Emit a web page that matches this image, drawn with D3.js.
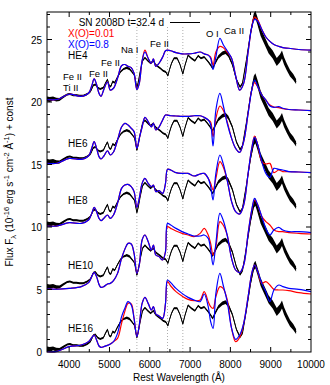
<!DOCTYPE html>
<html>
<head>
<meta charset="utf-8">
<script src="https://cdn.jsdelivr.net/npm/d3@7.9.0/dist/d3.min.js"></script>
<style>
  body { margin: 0; background: #fff; }
  text { font-family: "Liberation Sans", Arial, sans-serif; }
</style>
</head>
<body>
<svg id="chart" width="330" height="385"></svg>
<script>
// observed spectrum of SN 2008D (relative flux, shifted per panel)
const obsWave = [3450, 3520, 3600, 3680, 3760, 3850, 3950, 4020, 4100, 4180, 4260, 4350, 4450, 4530, 4600, 4650, 4710, 4770, 4850, 4900,
  4950, 4995, 5035, 5080, 5130, 5200, 5280, 5350, 5430, 5500, 5560, 5620, 5680, 5715, 5760, 5820, 5880, 5950, 6020, 6090,
  6140, 6200, 6260, 6330, 6400, 6450, 6490, 6540, 6600, 6680, 6750, 6820, 6870, 6950, 7030, 7120, 7200, 7270, 7350, 7430,
  7500, 7560, 7620, 7700, 7800, 7880, 7950, 8050, 8150, 8240, 8300, 8400, 8500, 8580, 8620, 8670, 8750, 8850, 8950, 9050,
  9150, 9230, 9280, 9330, 9400, 9480, 9560, 9630];
const obsFlux = [0.25, 0.2, 0.3, 0.2, 0.2, 0.4, 0.6, 0.65, 0.55, 0.55, 0.5, 0.5, 0.65, 0.85, 1.35, 1.4, 1.15, 1.05, 1.15, 1.5,
  1.8, 1.3, 1.25, 1.65, 1.55, 2.0, 2.45, 2.65, 2.75, 2.65, 2.4, 2.15, 1.15, 1.6, 2.4, 3.3, 3.55, 3.3, 3.1, 3.3,
  3.0, 2.85, 2.7, 2.5, 2.4, 2.1, 2.6, 3.1, 3.5, 3.5, 3.0, 2.25, 2.9, 3.75, 3.5, 3.3, 3.7, 3.5, 3.6, 3.3,
  3.0, 2.7, 3.1, 3.6, 3.9, 4.0, 3.75, 3.0, 1.8, 1.2, 1.5, 3.4, 5.5, 6.8, 7.0, 6.5, 5.6, 4.9, 4.2, 3.8,
  3.2, 3.5, 3.8, 3.3, 2.8, 2.3, 2.0, 1.65];
// half width of the noisy band of the observed spectrum
const obsNoise = [0.2, 0.2, 0.15, 0.15, 0.12, 0.1, 0.08, 0.08, 0.08, 0.08, 0.08, 0.08, 0.08, 0.08, 0.08, 0.08, 0.08, 0.08, 0.08, 0.08,
  0.08, 0.08, 0.08, 0.08, 0.08, 0.08, 0.08, 0.08, 0.1, 0.1, 0.08, 0.08, 0.08, 0.08, 0.08, 0.08, 0.08, 0.08, 0.08, 0.08,
  0.08, 0.08, 0.08, 0.08, 0.08, 0.08, 0.08, 0.08, 0.08, 0.08, 0.08, 0.08, 0.08, 0.08, 0.08, 0.08, 0.08, 0.08, 0.08, 0.08,
  0.1, 0.1, 0.12, 0.14, 0.15, 0.15, 0.15, 0.12, 0.1, 0.1, 0.1, 0.12, 0.2, 0.28, 0.3, 0.3, 0.32, 0.32, 0.32, 0.32,
  0.32, 0.32, 0.32, 0.3, 0.28, 0.26, 0.24, 0.2];

// model spectra, common wavelength grid
const modelWave = [3450, 3700, 4000, 4300, 4480, 4560, 4620, 4680, 4740, 4790, 4860, 4950, 5020, 5100, 5200, 5300, 5380, 5460, 5540, 5610,
  5680, 5740, 5810, 5880, 5960, 6040, 6090, 6150, 6230, 6320, 6390, 6440, 6520, 6650, 6800, 6950, 7100, 7250, 7350, 7450,
  7510, 7570, 7640, 7740, 7820, 7920, 8030, 8130, 8230, 8330, 8440, 8530, 8600, 8680, 8780, 8880, 8980, 9080, 9200, 9300,
  9450, 9700, 10000];

const he4Red = [0.2, 0.2, 0.62, 0.45, 0.7, 1.3, 1.85, 1.4, 0.7, 0.45, 1.0, 1.6, 0.95, 1.1, 1.9, 2.9, 3.0, 2.85, 2.75, 2.3,
  1.0, 1.5, 3.3, 4.15, 3.5, 3.1, 3.45, 2.85, 3.1, 3.6, 4.1, 4.15, 4.1, 3.95, 3.85, 3.85, 3.9, 4.0, 3.85, 3.75,
  3.6, 2.95, 4.0, 4.45, 4.35, 4.0, 3.5, 2.1, 0.95, 1.5, 4.0, 6.0, 6.8, 6.55, 5.8, 5.2, 4.85, 4.6, 4.45, 4.35,
  4.3, 4.2, 4.15];
const he4Blue = [0.2, 0.2, 0.62, 0.45, 0.7, 1.3, 1.85, 1.4, 0.7, 0.45, 1.0, 1.6, 0.95, 1.1, 1.9, 2.9, 3.0, 2.85, 2.75, 2.3,
  1.0, 1.5, 3.3, 4.0, 3.5, 3.1, 3.45, 2.85, 3.1, 3.6, 4.1, 4.15, 4.1, 3.95, 3.85, 3.85, 3.9, 4.0, 3.85, 3.75,
  3.5, 2.6, 3.6, 5.1, 4.6, 4.1, 3.5, 2.1, 0.95, 1.5, 4.0, 6.0, 6.6, 6.45, 5.8, 5.2, 4.85, 4.6, 4.45, 4.35,
  4.3, 4.2, 4.15];

const he6Red = [0.1, 0.1, 0.49, 0.41, 0.68, 1.3, 1.83, 1.3, 0.63, 0.44, 0.68, 1.1, 0.76, 1.0, 1.96, 3.0, 3.29, 3.16, 2.9, 2.63,
  1.29, 2.1, 3.0, 3.77, 3.43, 3.0, 3.3, 2.76, 3.0, 3.56, 3.96, 3.95, 3.9, 3.88, 3.85, 3.85, 3.9, 3.9, 3.77, 3.56,
  3.4, 2.23, 3.7, 4.68, 4.36, 3.43, 2.09, 1.29, 0.97, 1.83, 4.09, 5.96, 6.55, 6.2, 5.56, 5.16, 4.76, 4.6, 4.55, 4.47,
  4.4, 4.36, 4.31];
const he6Blue = [0.1, 0.1, 0.49, 0.41, 0.68, 1.3, 1.83, 1.3, 0.63, 0.44, 0.68, 1.1, 0.76, 1.0, 1.96, 3.0, 3.29, 3.16, 2.9, 2.63,
  1.29, 2.1, 3.0, 3.77, 3.43, 3.0, 3.3, 2.76, 3.0, 3.56, 3.96, 3.95, 3.9, 3.88, 3.85, 3.85, 3.9, 3.9, 3.77, 3.56,
  3.2, 1.48, 4.36, 5.69, 4.76, 3.3, 2.09, 1.29, 0.97, 1.83, 4.09, 5.96, 6.76, 6.23, 5.56, 5.16, 4.68, 4.57, 4.63, 4.5,
  4.4, 4.36, 4.31];

const he8Red = [0.08, 0.08, 0.35, 0.29, 0.56, 1.09, 1.57, 1.23, 0.69, 0.51, 0.69, 0.96, 0.69, 0.96, 1.89, 3.09, 3.36, 3.41, 3.23, 2.83,
  1.57, 2.3, 3.49, 3.89, 3.49, 3.23, 3.36, 2.83, 2.91, 2.69, 3.49, 4.61, 4.56, 4.35, 4.29, 4.29, 4.08, 4.24, 4.29, 3.89,
  3.5, 2.96, 3.89, 5.23, 4.83, 3.76, 2.03, 1.23, 1.04, 1.76, 4.29, 6.29, 7.28, 6.56, 5.23, 5.04, 5.09, 4.35, 4.56, 4.43,
  4.43, 4.4, 4.35];
const he8Blue = [0.08, 0.08, 0.35, 0.29, 0.56, 1.09, 1.57, 1.23, 0.69, 0.51, 0.69, 0.96, 0.69, 0.96, 1.89, 3.09, 3.36, 3.41, 3.23, 2.83,
  1.57, 2.3, 3.49, 3.89, 3.49, 3.23, 3.36, 2.83, 2.91, 2.69, 3.49, 4.61, 4.56, 4.35, 4.29, 4.29, 4.08, 4.24, 4.29, 3.89,
  3.23, 2.16, 4.29, 5.76, 5.09, 3.76, 2.03, 1.23, 1.04, 1.76, 4.29, 6.29, 7.17, 6.56, 5.23, 4.29, 3.97, 4.69, 4.61, 4.56,
  4.43, 4.4, 4.35];

const he10Red = [0.05, 0.02, 0.09, 0.23, 0.55, 1.03, 1.37, 1.03, 0.41, 0.17, 0.23, 0.44, 0.49, 0.71, 1.29, 2.49, 3.21, 3.69, 3.64, 2.89,
  1.29, 1.96, 3.96, 4.36, 3.83, 3.16, 3.56, 2.76, 2.63, 2.36, 3.03, 5.03, 4.89, 4.68, 4.49, 4.36, 4.23, 4.49, 4.89, 4.36,
  3.69, 2.76, 3.43, 5.43, 5.16, 4.36, 2.49, 1.56, 1.35, 1.96, 4.49, 6.36, 7.16, 6.76, 5.83, 5.43, 5.16, 4.76, 4.63, 4.63,
  4.55, 4.49, 4.44];
const he10Blue = [0.05, 0.02, 0.09, 0.23, 0.55, 1.03, 1.37, 1.03, 0.41, 0.17, 0.23, 0.44, 0.49, 0.71, 1.29, 2.49, 3.21, 3.69, 3.64, 2.89,
  1.29, 1.96, 3.96, 4.36, 3.83, 3.16, 3.56, 2.76, 2.63, 2.36, 3.03, 5.29, 5.16, 4.89, 4.63, 4.44, 4.28, 4.28, 4.36, 4.09,
  3.16, 1.96, 3.69, 6.09, 5.56, 4.36, 2.49, 1.56, 1.35, 1.96, 4.49, 6.36, 7.29, 6.76, 5.83, 4.89, 4.36, 4.76, 4.97, 4.76,
  4.63, 4.63, 4.55];

const he16Red = [0.02, 0.05, 0.43, 0.56, 0.83, 1.15, 1.36, 0.96, 0.48, 0.37, 0.43, 0.53, 0.64, 0.83, 1.09, 2.29, 3.23, 3.89, 3.85, 2.69,
  1.23, 2.16, 3.89, 4.37, 3.89, 3.36, 3.63, 3.04, 2.88, 2.69, 3.89, 5.63, 5.28, 4.83, 4.48, 4.21, 4.11, 4.16, 4.83, 4.03,
  3.63, 3.49, 4.43, 5.23, 5.09, 4.21, 1.89, 0.83, 1.17, 2.29, 4.43, 6.29, 6.96, 6.43, 5.49, 5.63, 5.36, 5.01, 4.96, 4.96,
  4.91, 4.75, 4.64];
const he16Blue = [0.02, 0.05, 0.43, 0.56, 0.83, 1.15, 1.36, 0.96, 0.48, 0.37, 0.43, 0.53, 0.64, 0.83, 1.49, 2.83, 3.49, 4.03, 3.76, 2.69,
  1.23, 2.16, 3.89, 4.37, 3.89, 3.36, 3.63, 3.04, 2.88, 2.69, 3.89, 5.76, 5.55, 5.09, 4.69, 4.37, 4.16, 4.03, 4.64, 3.63,
  2.43, 1.89, 4.69, 6.29, 5.36, 4.03, 1.89, 1.01, 1.36, 2.29, 4.43, 6.29, 6.96, 6.43, 5.49, 4.83, 4.03, 4.96, 5.36, 5.23,
  5.09, 5.01, 4.83];

const modelNames = ["HE4", "HE6", "HE8", "HE10", "HE16"];
const offsets = [20, 15, 10, 5, 0];
const redSets = [he4Red, he6Red, he8Red, he10Red, he16Red];
const blueSets = [he4Blue, he6Blue, he8Blue, he10Blue, he16Blue];

const lineMarks = [5680, 6440, 6820];
const xTicks = [4000, 5000, 6000, 7000, 8000, 9000, 10000];
const yTicks = [0, 5, 10, 15, 20, 25];

const svg = d3.select('#chart');
const pLeft = 47, pRight = 311, pTop = 12, pBottom = 352;
const fs = 10;

let x = d3.scaleLinear().domain([3450, 10000]).range([pLeft, pRight]);
let y = d3.scaleLinear().domain([0, 27.2]).range([pBottom, pTop]);

// dotted line ids
svg.append('g').selectAll('line').data(lineMarks).join('line')
  .attr('x1', d => x(d)).attr('x2', d => x(d))
  .attr('y1', y(0)).attr('y2', y(26))
  .attr('stroke', '#999').attr('stroke-width', 0.8)
  .attr('stroke-dasharray', '1,2');

let modelLine = d3.line()
  .x(d => x(d[0])).y(d => y(d[1]))
  .curve(d3.curveCatmullRom.alpha(0.5));
let obsLine = d3.line().x(d => x(d[0])).y(d => y(d[1]));
let obsBand = d3.area().x(d => x(d[0])).y0(d => y(d[1] - d[2])).y1(d => y(d[1] + d[2]));

offsets.forEach((off, i) => {
  let obs = obsWave.map((w, j) => [w, obsFlux[j] + off, obsNoise[j]]);
  svg.append('path').attr('d', obsBand(obs)).attr('fill', '#000');
  svg.append('path').attr('d', obsLine(obs)).attr('fill', 'none')
    .attr('stroke', '#000').attr('stroke-width', 1);

  let red = modelWave.map((w, j) => [w, redSets[i][j] + off]);
  let blue = modelWave.map((w, j) => [w, blueSets[i][j] + off]);
  svg.append('path').attr('d', modelLine(red)).attr('fill', 'none')
    .attr('stroke', '#ff0000').attr('stroke-width', 1.2);
  svg.append('path').attr('d', modelLine(blue)).attr('fill', 'none')
    .attr('stroke', '#0000ff').attr('stroke-width', 1.2);
});

// frame
svg.append('rect').attr('x', pLeft).attr('y', pTop)
  .attr('width', pRight - pLeft).attr('height', pBottom - pTop)
  .attr('fill', 'none').attr('stroke', '#000').attr('stroke-width', 1);

// ticks (inward, mirrored)
let ticks = svg.append('g').attr('stroke', '#000').attr('stroke-width', 1);
d3.range(4000, 10000, 500).forEach(v => {
  let len = v % 1000 === 0 ? 5 : 3;
  ticks.append('line').attr('x1', x(v)).attr('x2', x(v)).attr('y1', pBottom).attr('y2', pBottom - len);
  ticks.append('line').attr('x1', x(v)).attr('x2', x(v)).attr('y1', pTop).attr('y2', pTop + len);
});
d3.range(1, 28, 1).forEach(v => {
  let len = v % 5 === 0 ? 5 : 3;
  ticks.append('line').attr('y1', y(v)).attr('y2', y(v)).attr('x1', pLeft).attr('x2', pLeft + len);
  ticks.append('line').attr('y1', y(v)).attr('y2', y(v)).attr('x1', pRight).attr('x2', pRight - len);
});

// tick labels
svg.append('g').selectAll('text').data(xTicks).join('text')
  .attr('x', d => x(d)).attr('y', 368)
  .attr('text-anchor', 'middle').attr('font-size', fs)
  .text(d => d);
svg.append('g').selectAll('text').data(yTicks).join('text')
  .attr('x', 42).attr('y', d => y(d) + 4)
  .attr('text-anchor', 'end').attr('font-size', fs)
  .text(d => d);

// axis titles
svg.append('text').attr('x', (pLeft + pRight) / 2).attr('y', 381)
  .attr('text-anchor', 'middle').attr('font-size', fs)
  .text('Rest Wavelength (\u00c5)');

let yl = svg.append('text')
  .attr('transform', `translate(13,${(pTop + pBottom) / 2}) rotate(-90)`)
  .attr('text-anchor', 'middle').attr('font-size', fs);
yl.append('tspan').text('Flux  F');
yl.append('tspan').attr('dy', 3).attr('font-size', 7.5).text('\u03bb');
yl.append('tspan').attr('dy', -3).text(' (10');
yl.append('tspan').attr('dy', -4).attr('font-size', 7.5).text('-16');
yl.append('tspan').attr('dy', 4).text(' erg s');
yl.append('tspan').attr('dy', -4).attr('font-size', 7.5).text('-1');
yl.append('tspan').attr('dy', 4).text(' cm');
yl.append('tspan').attr('dy', -4).attr('font-size', 7.5).text('-2');
yl.append('tspan').attr('dy', 4).text(' \u00c5');
yl.append('tspan').attr('dy', -4).attr('font-size', 7.5).text('-1');
yl.append('tspan').attr('dy', 4).text(') + const');

// legend
svg.append('text').attr('x', 164).attr('y', 25.5).attr('text-anchor', 'end')
  .attr('font-size', fs).text('SN 2008D t=32.4 d');
svg.append('line').attr('x1', 170).attr('x2', 200).attr('y1', 22.5).attr('y2', 22.5)
  .attr('stroke', '#000').attr('stroke-width', 1);
svg.append('text').attr('x', 68).attr('y', 36.5).attr('font-size', fs)
  .attr('fill', '#ff0000').text('X(O)=0.01');
svg.append('text').attr('x', 68).attr('y', 47.5).attr('font-size', fs)
  .attr('fill', '#0000ff').text('X(O)=0.8');

// model names
const nameY = [59, 147, 204, 269, 332];
modelNames.forEach((n, i) => {
  svg.append('text').attr('x', 68).attr('y', nameY[i]).attr('font-size', fs).text(n);
});

// line ids
const ionLabels = ["Fe II", "Ti II", "Fe II", "Fe II", "Na I", "Fe II", "O I", "Ca II"];
const ionX = [63, 63, 89, 101, 121, 150, 206, 224];
const ionY = [79.5, 90.5, 76.5, 65.5, 53, 46.5, 37, 34];
ionLabels.forEach((t, i) => {
  svg.append('text').attr('x', ionX[i]).attr('y', ionY[i]).attr('font-size', 9.5).text(t);
});
</script>
</body>
</html>
